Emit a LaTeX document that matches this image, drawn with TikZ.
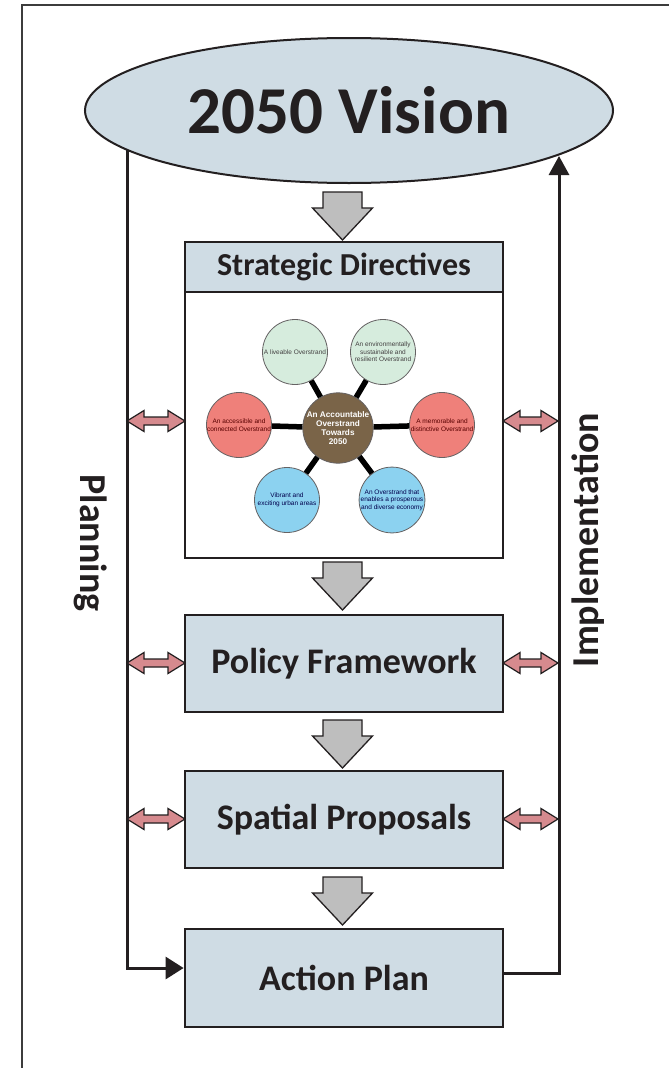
\documentclass[tikz,border=0pt]{standalone}
\usepackage{fontspec}
\setmainfont{Carlito}
\newfontfamily\goalfont{Liberation Sans}
\usepackage{tikz}
\usetikzlibrary{shapes.geometric,arrows.meta,positioning,calc}

\definecolor{inkdark}{RGB}{35,31,32}
\definecolor{framegray}{RGB}{60,60,60}
\definecolor{boxfill}{RGB}{207,220,228}
\definecolor{blockgray}{RGB}{190,190,190}
\definecolor{linkpink}{RGB}{214,138,142}
\definecolor{goalgreen}{RGB}{214,236,221}
\definecolor{goalred}{RGB}{239,128,122}
\definecolor{goalblue}{RGB}{140,210,240}
\definecolor{hubbrown}{RGB}{122,100,72}

% grey block arrow: #1 = shaft middle x, #2 = top y
\newcommand{\flowarrow}[2]{%
  \draw[flowblock] (#1-19.5,#2) -- (#1+19.5,#2) -- (#1+19.5,#2+16) -- (#1+30,#2+16)
    -- (#1,#2+48) -- (#1-30,#2+16) -- (#1-19.5,#2+16) -- cycle;}
% pink two-way arrow: #1 = left x, #2 = right x, #3 = y
\newcommand{\linkarrow}[3]{%
  \draw[linkblock] (#1,#3) -- (#1+17,#3-10.5) -- (#1+17,#3-4) -- (#2-17,#3-4)
    -- (#2-17,#3-10.5) -- (#2,#3) -- (#2-17,#3+10.5) -- (#2-17,#3+4)
    -- (#1+17,#3+4) -- (#1+17,#3+10.5) -- cycle;}

\begin{document}
\begin{tikzpicture}[x=1pt, y=-1pt,
    box/.style={rectangle, draw=inkdark, fill=boxfill, line width=2.8pt,
      minimum width=318pt, inner sep=0pt},
    title/.style={font=\bfseries\fontsize{36}{40}\selectfont, text=inkdark},
    goal/.style={circle, draw=inkdark!70, line width=0.8pt, minimum size=65pt,
      inner sep=0pt, align=center, font=\goalfont\fontsize{6.5}{7.6}\selectfont},
    hub/.style={goal, fill=hubbrown, text=white,
      font=\goalfont\bfseries\fontsize{8.2}{9}\selectfont},
    spoke/.style={line width=5.5pt, black},
    loopline/.style={line width=3pt, draw=inkdark},
    flowblock/.style={draw=inkdark, fill=blockgray, line width=1.3pt},
    linkblock/.style={draw=inkdark, fill=linkpink, line width=1.2pt}
]
    \useasboundingbox (0,0) rectangle (669,1068);
    \fill[white] (0,0) rectangle (669,1068);
    \draw[framegray, line width=2.2pt] (22,5) rectangle (690,1090);

    % Vision
    \node[ellipse, draw=inkdark, fill=boxfill, line width=2pt,
      minimum width=528pt, minimum height=145pt, inner sep=0pt,
      font=\bfseries\fontsize{67}{70}\selectfont, text=inkdark] (vision) at (349,110.5) {2050 Vision};

    % Strategic directives
    \node[box, minimum height=50pt] (sdhead) at (344,267) {};
    \node[title, font=\bfseries\fontsize{32}{36}\selectfont] (sdtitle) at (sdhead) {Strategic Directives};
    \node[box, fill=white, minimum height=266pt] (sdbody) at (344,425) {};

    % Goals
    \node[hub] (hub) at (338,428) {An Accountable\\Overstrand\\Towards\\2050};
    \node[goal, fill=goalgreen, text=inkdark!85] (g1) at (295,352) {A liveable Overstrand};
    \node[goal, fill=goalgreen, text=inkdark!85] (g2) at (383,352) {An environmentally\\sustainable and\\resilient Overstrand};
    \node[goal, fill=goalred, text=red!35!black] (g3) at (239,425) {An accessible and\\connected Overstrand};
    \node[goal, fill=goalred, text=red!35!black] (g4) at (442,425) {A memorable and\\distinctive Overstrand};
    \node[goal, fill=goalblue, text=blue!30!black] (g5) at (287,500) {Vibrant and\\exciting urban areas};
    \node[goal, fill=goalblue, text=blue!30!black] (g6) at (392,500) {An Overstrand that\\enables a prosperous\\and diverse economy};
    \foreach \g in {g1,g2,g3,g4,g5,g6} {
        \draw[spoke] (hub) -- (\g);
    }

    % Lower boxes
    \node[box, minimum height=97pt, title] (policy) at (344,663.5) {Policy Framework};
    \node[box, minimum height=97pt, title] (spatial) at (344,819.5) {Spatial Proposals};
    \node[box, minimum height=98pt, title] (action) at (344,978) {Action Plan};

    % Flow arrows
    \foreach \t in {192,562,720,877} {
        \flowarrow{342.5}{\t}
    }

    % Planning / implementation loop
    \coordinate (plantop) at (127,150);
    \coordinate (impltop) at (559,156);
    \draw[loopline, -{Triangle[length=18pt,width=22pt]}] (plantop) |- ([yshift=10pt]action.west);
    \draw[loopline, -{Triangle[length=19pt,width=20pt]}] ([yshift=5pt]action.east) -| (impltop);
    \node[rotate=-90, font=\bfseries\fontsize{38}{40}\selectfont, text=inkdark] (planning) at (91,543) {Planning};
    \node[rotate=90, font=\bfseries\fontsize{38}{40}\selectfont, text=inkdark] (implementation) at (588.5,540) {Implementation};

    % Two-way links
    \foreach \y in {421,663,819} {
        \linkarrow{127}{185}{\y}
        \linkarrow{503}{558}{\y}
    }
\end{tikzpicture}
\end{document}
